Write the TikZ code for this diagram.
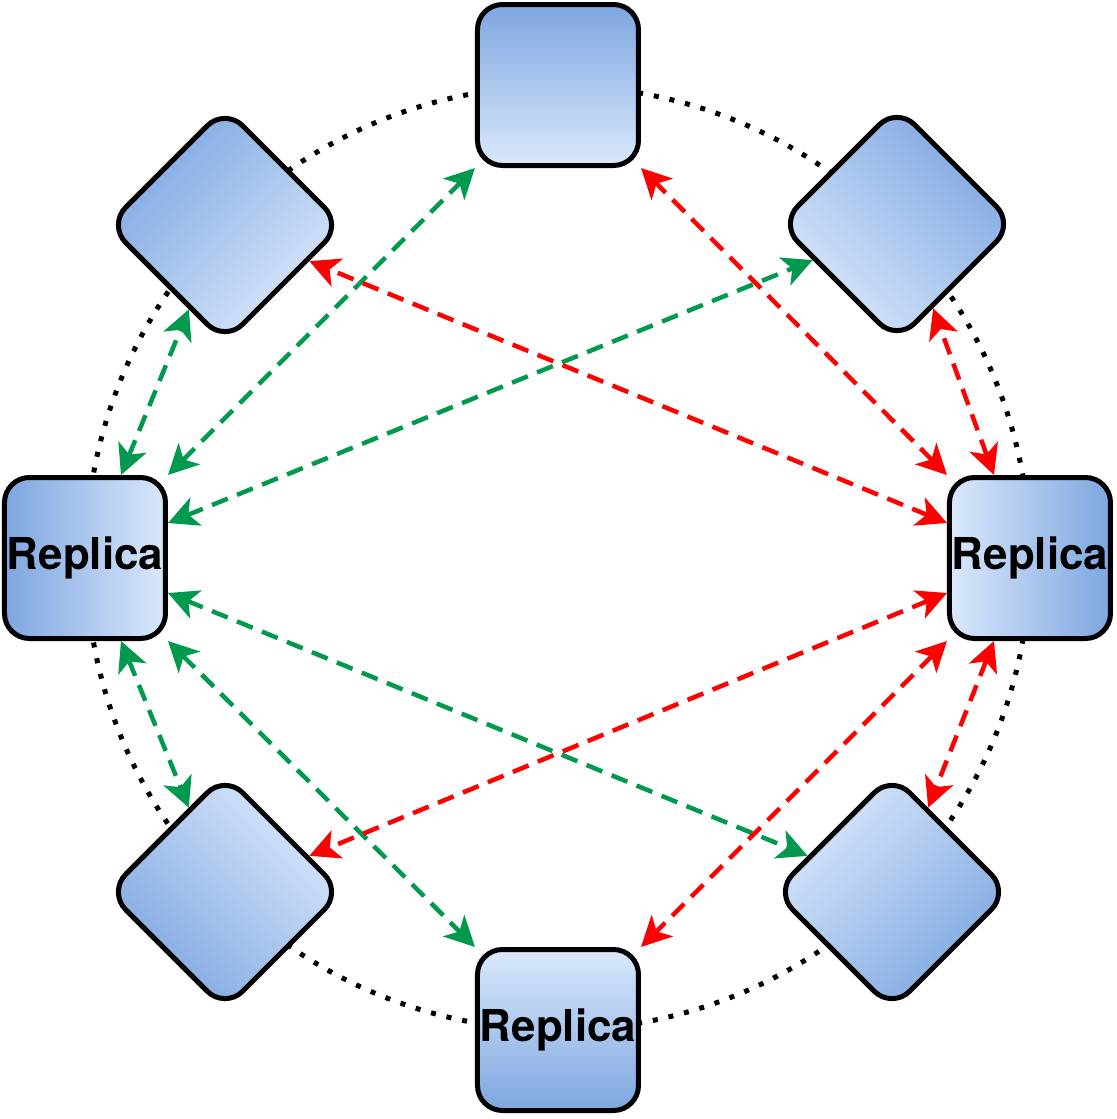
\documentclass[tikz,border=0pt]{standalone}
\usepackage{fontspec}
\setmainfont{TeX Gyre Heros}
\usepackage{xcolor}
\usepackage{tikz}
\usetikzlibrary{arrows.meta, shapes.geometric, calc}

\definecolor{repdark}{HTML}{7EA6E0}
\definecolor{replight}{HTML}{DAE8FC}
\definecolor{syncgreen}{HTML}{00994D}
\definecolor{syncred}{HTML}{FF0000}

\tikzset{
  server/.style={draw=black, line width=0.05cm, rounded corners=0.25cm,
    top color=repdark, bottom color=replight, inner sep=0pt,
    font=\fontsize{12.5}{15}\selectfont\bfseries},
  squarebox/.style={server, rectangle, minimum size=1.61cm},
  diamondbox/.style={server, diamond, minimum width=2.36cm, minimum height=2.36cm},
  ring/.style={black, line width=0.05cm, dash pattern=on 0.05cm off 0.11cm},
  link/.style={<->, line width=0.045cm, dash pattern=on 0.17cm off 0.1cm},
  greenlink/.style={link, syncgreen},
  redlink/.style={link, syncred}
}

\begin{document}
\begin{tikzpicture}[>={Stealth[length=0.3cm, width=0.3cm, inset=0.08cm]}]
\useasboundingbox (-5.58,-5.61) rectangle (5.59,5.58);
\coordinate (O) at (0,0);
\draw[ring] (O) circle (4.72);

% replicas round the ring
\node[squarebox,  shading angle=0]    (N)  at (0,4.73)      {};
\node[diamondbox, shading angle=-45]  (NE) at (3.39,3.34)   {};
\node[squarebox,  shading angle=-90]  (E)  at (4.72,0)      {Replica};
\node[diamondbox, shading angle=-135] (SE) at (3.34,-3.34)  {};
\node[squarebox,  shading angle=180]  (S)  at (0,-4.72)     {Replica};
\node[diamondbox, shading angle=135]  (SW) at (-3.33,-3.34) {};
\node[squarebox,  shading angle=90]   (W)  at (-4.73,0)     {Replica};
\node[diamondbox, shading angle=45]   (NW) at (-3.33,3.33)  {};

% green links
\draw[greenlink] ([xshift=0.36cm]W.north) -- ($(NW.south)!0.3!(NW.west)$);
\draw[greenlink] (W.north east) -- (N.south west);
\draw[greenlink] ([yshift=0.35cm]W.east) -- ($(NE.west)!0.3!(NE.south)$);
\draw[greenlink] ([yshift=-0.35cm]W.east) -- ($(SE.west)!0.3!(SE.north)$);
\draw[greenlink] (W.south east) -- (S.north west);
\draw[greenlink] ([xshift=0.36cm]W.south) -- ($(SW.north)!0.3!(SW.west)$);

% red links
\draw[redlink] ([xshift=-0.36cm]E.north) -- ($(NE.south)!0.3!(NE.east)$);
\draw[redlink] (E.north west) -- (N.south east);
\draw[redlink] ([yshift=0.35cm]E.west) -- ($(NW.east)!0.3!(NW.south)$);
\draw[redlink] ([yshift=-0.35cm]E.west) -- ($(SW.east)!0.3!(SW.north)$);
\draw[redlink] (E.south west) -- (S.north east);
\draw[redlink] ([xshift=-0.36cm]E.south) -- ($(SE.north)!0.3!(SE.east)$);
\end{tikzpicture}
\end{document}
